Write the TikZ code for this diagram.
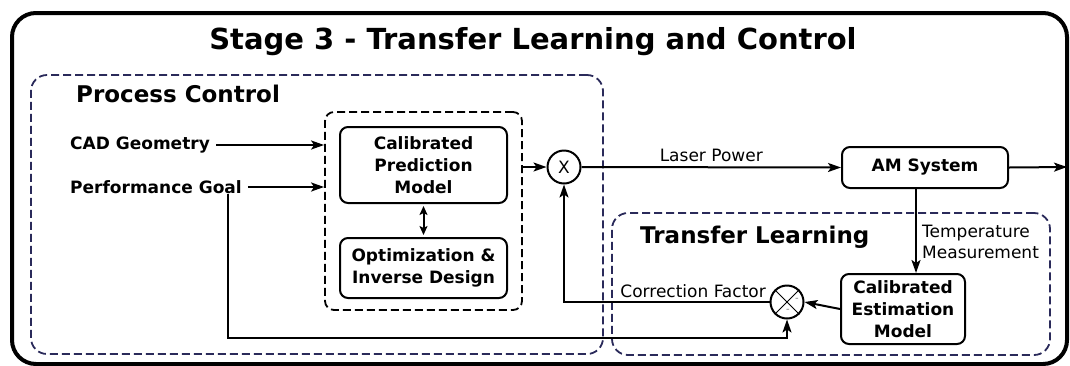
\documentclass[tikz,border=0pt]{standalone}
\usepackage{fontspec}
\setmainfont{DejaVu Sans}
\usetikzlibrary{arrows.meta,calc}
\definecolor{navy}{RGB}{42,42,90}
\newcommand\boxfnt{\fontsize{17}{22}\selectfont\bfseries}
\newcommand\ttlfnt{\fontsize{29}{34}\selectfont\bfseries}
\newcommand\hdfnt{\fontsize{23}{27}\selectfont\bfseries}
\newcommand\lblfnt{\fontsize{17}{21}\selectfont}
\begin{document}
\begin{tikzpicture}[x=1pt,y=-1pt,
  box/.style={draw, line width=2pt, rounded corners=8pt, align=center, font=\boxfnt, inner sep=0pt},
  arr/.style={line width=2pt, -{Stealth[length=13pt,width=9pt,inset=3pt]}},
  grp/.style={draw=navy, line width=1.8pt, dash pattern=on 8pt off 4pt, rounded corners=16pt, inner sep=0pt},
  inbox/.style={draw=black, line width=1.8pt, dash pattern=on 8pt off 4pt, rounded corners=9pt, inner sep=0pt},
  sum/.style={draw, circle, line width=2pt, minimum size=33pt, inner sep=0pt, font=\lblfnt},
  lbl/.style={font=\lblfnt, inner sep=0pt},
  hd/.style={font=\hdfnt, inner sep=0pt, anchor=west},
  inp/.style={font=\boxfnt, inner sep=0pt, anchor=west}]
\useasboundingbox (0,0) rectangle (1070,365);
% outer frame
\node[draw, line width=4pt, rounded corners=24pt, minimum width=1055pt, minimum height=351pt, inner sep=0pt] (frame) at (539.5,188.5) {};
\node[font=\ttlfnt, inner sep=0pt] (title) at (533,42) {Stage 3 - Transfer Learning and Control};
% groups
\node[grp, minimum width=572pt, minimum height=279pt] (pc) at (317,214.5) {};
\node[hd] (pctitle) at (76,94) {Process Control};
\node[grp, minimum width=438pt, minimum height=142pt] (tl) at (831,284) {};
\node[hd] (tltitle) at (640,237) {Transfer Learning};
\node[inbox, minimum width=197pt, minimum height=198pt] (inner) at (423.5,211) {};
% boxes
\node[box, minimum width=167pt, minimum height=76pt] (cpm) at (423.5,165) {Calibrated\\Prediction\\Model};
\node[box, minimum width=167pt, minimum height=60pt] (oid) at (423.5,268) {Optimization \&\\Inverse Design};
\node[box, minimum width=166pt, minimum height=41pt] (am) at (925,167.5) {AM System};
\node[box, minimum width=124pt, minimum height=70pt] (cem) at (903,309) {Calibrated\\Estimation\\Model};
% junctions
\node[sum] (mult) at (564,167) {X};
\node[sum] (cmp) at (787,302) {};
\draw[line width=1pt] (cmp.north west) -- (cmp.south east) (cmp.north east) -- (cmp.south west);
\node[font=\fontsize{10}{10}\selectfont, text=gray, inner sep=0pt] (m1) at (797,300) {-};
\node[font=\fontsize{10}{10}\selectfont, text=gray, inner sep=0pt] (m2) at (788,311) {-};
% inputs
\node[inp] (cad) at (70,145) {CAD Geometry};
\node[inp] (perf) at (70,187) {Performance Goal};
\coordinate (pg) at (228,338);
\coordinate (out) at (1067,167);
% connectors
\draw[arr] ([xshift=6pt]cad.east) -- (cad.east -| inner.west);
\draw[arr] ([xshift=6pt]perf.east) -- (perf.east -| inner.west);
\draw[arr] (inner.east |- mult) -- (mult.west);
\draw[arr] (mult.east) -- node[lbl, above=5pt, pos=0.5] (lp) {Laser Power} (am.west);
\draw[arr] (am.east) -- (out);
\draw[arr] ([xshift=-9pt]am.south) -- ([xshift=13pt]cem.north);
\node[lbl, anchor=west, align=left] (tm) at (922,242) {Temperature\\Measurement};
\draw[arr] (cem.west) -- (cmp.east);
\draw[arr] (cmp.west) -| (mult.south);
\node[lbl, anchor=south east] (cf) at (766,298) {Correction Factor};
\draw[arr] (perf.south -| pg) -- (pg) -| (cmp.south);
\draw[line width=2pt, {Stealth[length=9pt,width=8pt,inset=2pt]}-{Stealth[length=9pt,width=8pt,inset=2pt]}] ([yshift=-2pt]cpm.south) -- ([yshift=2pt]oid.north);
\end{tikzpicture}
\end{document}
